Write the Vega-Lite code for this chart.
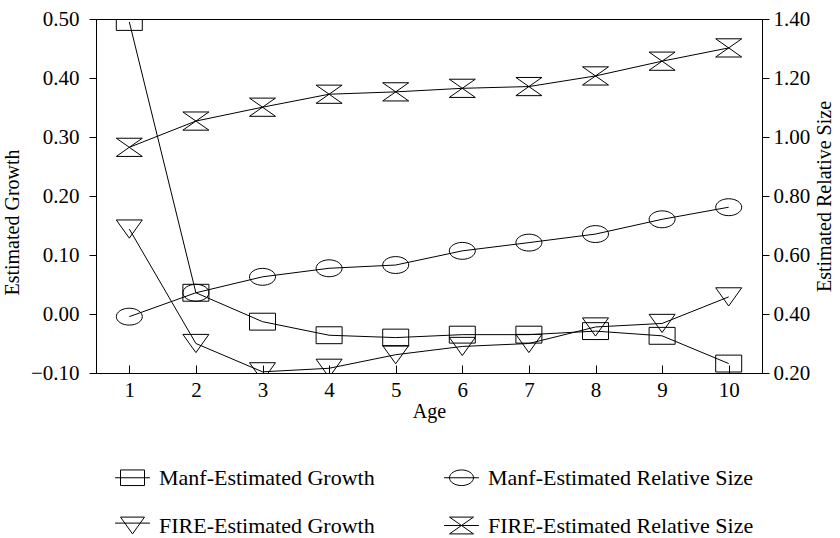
{
  "$schema": "https://vega.github.io/schema/vega-lite/v6.json",
  "autosize": {"type": "none"},
  "padding": {"left": 96, "top": 19, "right": 78, "bottom": 165},
  "width": 666,
  "height": 354,
  "background": "white",
  "config": {
    "font": "Liberation Serif",
    "view": {"stroke": "black", "strokeWidth": 1},
    "axis": {
      "labelFont": "Liberation Serif",
      "titleFont": "Liberation Serif",
      "labelFontSize": 21,
      "titleFontSize": 20,
      "titleFontWeight": "normal",
      "labelColor": "black",
      "titleColor": "black",
      "domainColor": "black",
      "tickColor": "black",
      "grid": false
    },
    "legend": {
      "labelFont": "Liberation Serif",
      "labelFontSize": 22,
      "labelColor": "black",
      "labelLimit": 0
    }
  },
  "datasets": {
    "growth": [
      {"age": 1, "series": "Manf-Estimated Growth", "value": 0.495},
      {"age": 2, "series": "Manf-Estimated Growth", "value": 0.036},
      {"age": 3, "series": "Manf-Estimated Growth", "value": -0.013},
      {"age": 4, "series": "Manf-Estimated Growth", "value": -0.036},
      {"age": 5, "series": "Manf-Estimated Growth", "value": -0.040},
      {"age": 6, "series": "Manf-Estimated Growth", "value": -0.035},
      {"age": 7, "series": "Manf-Estimated Growth", "value": -0.035},
      {"age": 8, "series": "Manf-Estimated Growth", "value": -0.029},
      {"age": 9, "series": "Manf-Estimated Growth", "value": -0.037},
      {"age": 10, "series": "Manf-Estimated Growth", "value": -0.084},
      {"age": 1, "series": "FIRE-Estimated Growth", "value": 0.144},
      {"age": 2, "series": "FIRE-Estimated Growth", "value": -0.050},
      {"age": 3, "series": "FIRE-Estimated Growth", "value": -0.098},
      {"age": 4, "series": "FIRE-Estimated Growth", "value": -0.092},
      {"age": 5, "series": "FIRE-Estimated Growth", "value": -0.069},
      {"age": 6, "series": "FIRE-Estimated Growth", "value": -0.055},
      {"age": 7, "series": "FIRE-Estimated Growth", "value": -0.050},
      {"age": 8, "series": "FIRE-Estimated Growth", "value": -0.022},
      {"age": 9, "series": "FIRE-Estimated Growth", "value": -0.016},
      {"age": 10, "series": "FIRE-Estimated Growth", "value": 0.029}
    ],
    "size": [
      {"age": 1, "series": "Manf-Estimated Relative Size", "value": 0.391},
      {"age": 2, "series": "Manf-Estimated Relative Size", "value": 0.472},
      {"age": 3, "series": "Manf-Estimated Relative Size", "value": 0.526},
      {"age": 4, "series": "Manf-Estimated Relative Size", "value": 0.555},
      {"age": 5, "series": "Manf-Estimated Relative Size", "value": 0.566},
      {"age": 6, "series": "Manf-Estimated Relative Size", "value": 0.614},
      {"age": 7, "series": "Manf-Estimated Relative Size", "value": 0.642},
      {"age": 8, "series": "Manf-Estimated Relative Size", "value": 0.671},
      {"age": 9, "series": "Manf-Estimated Relative Size", "value": 0.721},
      {"age": 10, "series": "Manf-Estimated Relative Size", "value": 0.762},
      {"age": 1, "series": "FIRE-Estimated Relative Size", "value": 0.965},
      {"age": 2, "series": "FIRE-Estimated Relative Size", "value": 1.054},
      {"age": 3, "series": "FIRE-Estimated Relative Size", "value": 1.101},
      {"age": 4, "series": "FIRE-Estimated Relative Size", "value": 1.145},
      {"age": 5, "series": "FIRE-Estimated Relative Size", "value": 1.153},
      {"age": 6, "series": "FIRE-Estimated Relative Size", "value": 1.165},
      {"age": 7, "series": "FIRE-Estimated Relative Size", "value": 1.171},
      {"age": 8, "series": "FIRE-Estimated Relative Size", "value": 1.207},
      {"age": 9, "series": "FIRE-Estimated Relative Size", "value": 1.257},
      {"age": 10, "series": "FIRE-Estimated Relative Size", "value": 1.302}
    ]
  },
  "encoding": {
    "x": {
      "field": "age",
      "type": "quantitative",
      "scale": {"domain": [0.5, 10.5], "nice": false, "zero": false},
      "axis": {
        "title": "Age",
        "values": [1, 2, 3, 4, 5, 6, 7, 8, 9, 10],
        "tickSize": -8,
        "labelPadding": 14,
        "titlePadding": 1
      }
    }
  },
  "layer": [
    {
      "data": {"name": "growth"},
      "encoding": {
        "y": {
          "field": "value",
          "type": "quantitative",
          "scale": {"domain": [-0.1, 0.5], "nice": false, "zero": false},
          "axis": {
            "title": "Estimated Growth",
            "orient": "left",
            "values": [-0.1, 0, 0.1, 0.2, 0.3, 0.4, 0.5],
            "format": ".2f",
            "tickSize": 7,
            "labelPadding": 10,
            "titlePadding": 8,
            "titleY": 203
          }
        }
      },
      "layer": [
        {
          "mark": {"type": "line", "color": "black", "strokeWidth": 1, "clip": true},
          "encoding": {"detail": {"field": "series"}}
        },
        {
          "mark": {"type": "point", "filled": false, "strokeWidth": 1, "size": 676, "opacity": 1, "clip": true},
          "encoding": {
            "shape": {
              "field": "series",
              "type": "nominal",
              "legend": null,
              "scale": {
                "domain": ["Manf-Estimated Growth", "Manf-Estimated Relative Size", "FIRE-Estimated Growth", "FIRE-Estimated Relative Size"],
                "range": [
                  "M-1,-0.65L1,-0.65L1,0.65L-1,0.65Z",
                  "M-1,0C-1,-0.359,-0.552,-0.65,0,-0.65C0.552,-0.65,1,-0.359,1,0C1,0.359,0.552,0.65,0,0.65C-0.552,0.65,-1,0.359,-1,0Z",
                  "M-1,-0.7L1,-0.7L0,0.7Z",
                  "M-1,-0.7L1,-0.7L-1,0.7L1,0.7Z"
                ]
              }
            },
            "color": {
              "field": "series",
              "type": "nominal",
              "sort": ["Manf-Estimated Growth", "Manf-Estimated Relative Size", "FIRE-Estimated Growth", "FIRE-Estimated Relative Size"],
              "scale": {"range": ["black", "black", "black", "black"]},
              "legend": {
                "title": null,
                "orient": "none",
                "legendX": 24,
                "legendY": 446,
                "columns": 2,
                "direction": "horizontal",
                "symbolSize": 576,
                "symbolStrokeWidth": 1,
                "symbolFillColor": "transparent",
                "symbolType": {"expr": "datum.value === 'Manf-Estimated Growth' ? 'M-1.45,0L1.45,0M-1,-0.65L1,-0.65L1,0.65L-1,0.65Z' : datum.value === 'Manf-Estimated Relative Size' ? 'M-1.45,0L1.45,0M-1,0C-1,-0.359,-0.552,-0.65,0,-0.65C0.552,-0.65,1,-0.359,1,0C1,0.359,0.552,0.65,0,0.65C-0.552,0.65,-1,0.359,-1,0Z' : datum.value === 'FIRE-Estimated Growth' ? 'M-1.45,-0.2L1.45,-0.2M-1,-0.7L1,-0.7L0,0.7Z' : 'M-1.45,0L1.45,0M-1,-0.7L1,-0.7L-1,0.7L1,0.7Z'"},
                "labelOffset": 14,
                "columnPadding": 67,
                "rowPadding": 24,
                "labelLimit": 0
              }
            }
          }
        }
      ]
    },
    {
      "data": {"name": "size"},
      "encoding": {
        "y": {
          "field": "value",
          "type": "quantitative",
          "scale": {"domain": [0.2, 1.4], "nice": false, "zero": false},
          "axis": {
            "title": "Estimated Relative Size",
            "orient": "right",
            "values": [0.2, 0.4, 0.6, 0.8, 1.0, 1.2, 1.4],
            "format": ".2f",
            "tickSize": 7,
            "labelPadding": 4,
            "titlePadding": 25,
            "titleAngle": 270
          }
        }
      },
      "layer": [
        {
          "mark": {"type": "line", "color": "black", "strokeWidth": 1, "clip": true},
          "encoding": {"detail": {"field": "series"}}
        },
        {
          "mark": {"type": "point", "filled": false, "strokeWidth": 1, "size": 676, "opacity": 1, "clip": true},
          "encoding": {
            "shape": {"field": "series", "type": "nominal", "legend": null},
            "color": {
              "field": "series",
              "type": "nominal",
              "sort": ["Manf-Estimated Growth", "Manf-Estimated Relative Size", "FIRE-Estimated Growth", "FIRE-Estimated Relative Size"]
            }
          }
        }
      ]
    }
  ],
  "resolve": {"scale": {"y": "independent"}}
}
